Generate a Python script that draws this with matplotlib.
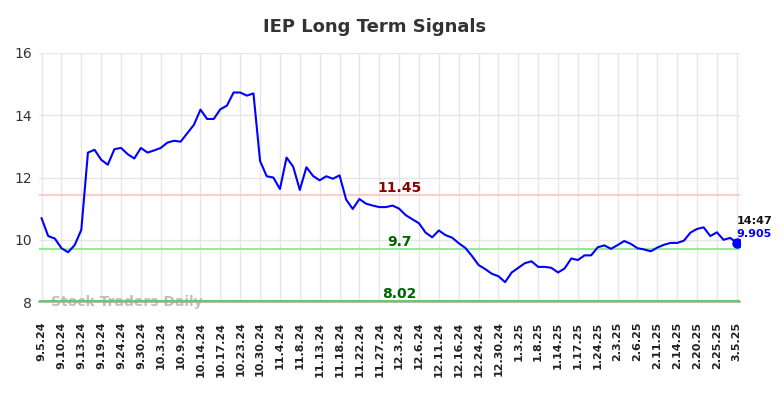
import matplotlib
matplotlib.use("Agg")
import matplotlib.pyplot as plt

title = "IEP Long Term Signals"
tick_labels = ["9.5.24", "9.10.24", "9.13.24", "9.19.24", "9.24.24", "9.30.24",
               "10.3.24", "10.9.24", "10.14.24", "10.17.24", "10.23.24", "10.30.24",
               "11.4.24", "11.8.24", "11.13.24", "11.18.24", "11.22.24", "11.27.24",
               "12.3.24", "12.6.24", "12.11.24", "12.16.24", "12.24.24", "12.30.24",
               "1.3.25", "1.8.25", "1.14.25", "1.17.25", "1.24.25", "2.3.25",
               "2.6.25", "2.11.25", "2.14.25", "2.20.25", "2.25.25", "3.5.25"]
prices = [10.69, 10.12, 10.04, 9.73, 9.60, 9.83, 10.32, 12.80, 12.89, 12.57,
          12.41, 12.91, 12.95, 12.75, 12.61, 12.95, 12.80, 12.87, 12.95, 13.12,
          13.18, 13.15, 13.42, 13.69, 14.18, 13.88, 13.88, 14.19, 14.31, 14.73,
          14.73, 14.63, 14.70, 12.53, 12.04, 12.00, 11.63, 12.64, 12.35, 11.60,
          12.33, 12.05, 11.91, 12.04, 11.96, 12.07, 11.29, 10.99, 11.31, 11.16,
          11.10, 11.05, 11.05, 11.10, 11.00, 10.79, 10.66, 10.53, 10.23, 10.08,
          10.30, 10.15, 10.07, 9.89, 9.74, 9.48, 9.19, 9.06, 8.91, 8.83,
          8.64, 8.95, 9.10, 9.25, 9.31, 9.13, 9.13, 9.10, 8.95, 9.08,
          9.40, 9.35, 9.50, 9.50, 9.76, 9.82, 9.71, 9.83, 9.96, 9.87,
          9.73, 9.69, 9.63, 9.75, 9.84, 9.90, 9.90, 9.97, 10.23, 10.35,
          10.40, 10.12, 10.24, 10.00, 10.06, 9.905]
resistance = 11.45
support_hi = 9.7
support_lo = 8.02
last_time = "14:47"
last_value = "9.905"
points_per_tick = 3

fig = plt.figure(figsize=(7.84, 3.98), dpi=100)
ax = fig.add_axes([0.050, 0.241, 0.894, 0.626])

x = list(range(len(prices)))
ax.set_xlim(-0.36, len(prices) - 1 + 0.5)
ax.set_ylim(8, 16)

ax.axhline(resistance, color="#ffcccc", lw=1.5, zorder=2)
ax.axhline(support_hi, color="#90ee90", lw=1.5, zorder=2)
ax.axhline(support_lo, color="#66cc66", lw=1.5, zorder=3)

ax.plot(x, prices, color="#0000ff", lw=1.5, zorder=4)
ax.plot([x[-1]], [prices[-1]], "o", color="#0000ff", ms=6.5, zorder=5)

tick_pos = [i * points_per_tick for i in range(len(tick_labels))]
ax.set_xticks(tick_pos)
ax.set_xticklabels(tick_labels, rotation=90, fontsize=8, fontweight="bold", color="#222222")
ax.set_yticks([8, 10, 12, 14, 16])
ax.tick_params(axis="y", labelsize=10, colors="#333333", length=0, pad=5)
ax.tick_params(axis="x", length=0, pad=14)
ax.grid(True, color="#e6e6e6", lw=1)
ax.set_axisbelow(True)
for s in ["top", "right", "left"]:
    ax.spines[s].set_visible(False)
ax.spines["bottom"].set_color("#aaaaaa")
ax.spines["bottom"].set_linewidth(1.2)

mid = 54
ax.annotate(f"{resistance:g}", (mid, resistance), xytext=(0, 0), textcoords="offset points",
            ha="center", va="bottom", color="#8b0000", fontsize=10, fontweight="bold")
ax.annotate(f"{support_hi:g}", (mid, support_hi), xytext=(0, 0), textcoords="offset points",
            ha="center", va="bottom", color="#006400", fontsize=10, fontweight="bold")
ax.annotate(f"{support_lo:g}", (mid, support_lo), xytext=(0, 0), textcoords="offset points",
            ha="center", va="bottom", color="#006400", fontsize=10, fontweight="bold")

ax.annotate(last_time, (x[-1], prices[-1]), xytext=(0, 16), textcoords="offset points",
            ha="left", va="center", color="#111111", fontsize=8, fontweight="bold")
ax.annotate(last_value, (x[-1], prices[-1]), xytext=(0, 6.5), textcoords="offset points",
            ha="left", va="center", color="#0000ff", fontsize=8, fontweight="bold")

ax.text(0.017, 0.0, "Stock Traders Daily", transform=ax.transAxes, ha="left", va="center",
        fontsize=10, fontweight="bold", color="#aaaaaa", alpha=0.75, zorder=1)

fig.suptitle(title, x=0.478, y=0.955, fontsize=13, fontweight="bold", color="#333333")

fig.savefig("out.png", dpi=100, facecolor="white")
